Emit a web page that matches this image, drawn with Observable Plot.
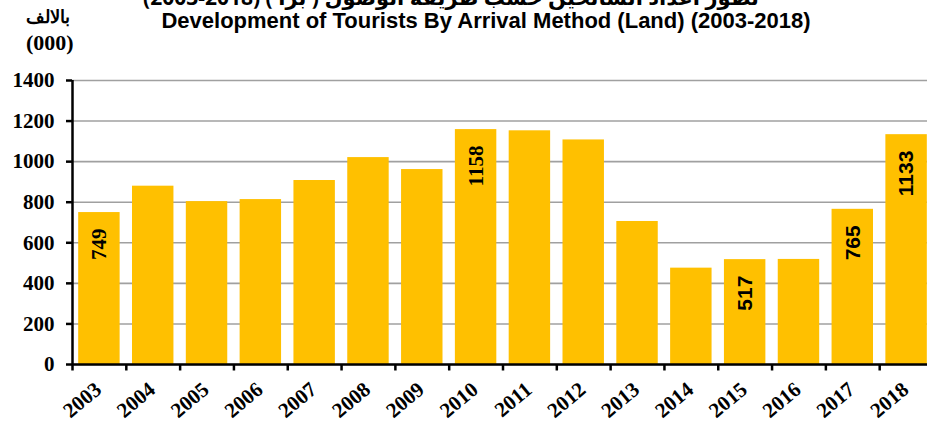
<!DOCTYPE html>
<html>
<head>
<meta charset="utf-8">
<script src="https://cdn.jsdelivr.net/npm/d3@7"></script>
<script src="https://cdn.jsdelivr.net/npm/@observablehq/plot@0.6"></script>
<style>
  html, body { margin: 0; padding: 0; background: white; }
  #wrap { position: relative; width: 927px; height: 424px; overflow: hidden; background: white; }
  .t { position: absolute; white-space: nowrap; color: #000; }
  #ar { top: -17px; left: 213px; width: 546px; text-align: center; font: bold 21px "Noto Sans", "DejaVu Sans", sans-serif; direction: rtl; }
  #en { top: 8px; left: 157px; width: 658px; text-align: center; font: bold 22px "Liberation Sans", Arial, sans-serif; }
  #u1 { top: 6px; left: 26px; font: bold 18px "Liberation Serif", "DejaVu Serif", serif; direction: rtl; }
  #u2 { top: 30px; left: 26px; font: bold 22px "Liberation Serif", "DejaVu Serif", serif; }
  #chart { position: absolute; top: 0; left: 0; }
</style>
</head>
<body>
<div id="wrap">
  <div id="chart"></div>
  <div class="t" id="ar">تطور أعداد السائحين حسب طريقة الوصول ( براً ) (2018-2003)</div>
  <div class="t" id="en">Development of Tourists By Arrival Method (Land) (2003-2018)</div>
  <div class="t" id="u1">بالالف</div>
  <div class="t" id="u2">(000)</div>
</div>
<script>
const years = ["2003","2004","2005","2006","2007","2008","2009","2010","2011","2012","2013","2014","2015","2016","2017","2018"];
const values = [749, 879, 803, 813, 907, 1020, 961, 1158, 1152, 1107, 705, 475, 517, 518, 765, 1133];
const serifLabelYears = ["2003", "2010"];
const sansLabelYears = ["2015", "2017", "2018"];
const yTicks = [0, 200, 400, 600, 800, 1000, 1200, 1400];

const data = years.map((year, i) => ({year, value: values[i]}));
const serifLabels = data.filter(d => serifLabelYears.includes(d.year));
const sansLabels = data.filter(d => sansLabelYears.includes(d.year));

const left = 72, right = 933;
const step = (right - left) / years.length;
const serif = "'Liberation Serif', 'DejaVu Serif', serif";
const sans = "'Liberation Sans', Arial, sans-serif";

const chart = Plot.plot({
  width: 927,
  height: 424,
  marginLeft: left,
  marginRight: 0,
  marginTop: 80,
  marginBottom: 60,
  style: {background: "white", overflow: "hidden"},
  x: {domain: years, range: [left, right], round: false, paddingInner: 0.23, paddingOuter: 0.115, label: null},
  y: {domain: [0, 1400], label: null},
  marks: [
    Plot.gridY(yTicks, {stroke: "#a0a0a0", strokeOpacity: 1, strokeWidth: 1.6}),
    Plot.barY(data, {x: "year", y: "value", fill: "#FFC000"}),
    Plot.ruleY([0], {stroke: "black", strokeWidth: 2.5}),
    Plot.ruleX([years[0]], {x: d => d, y1: 0, y2: 1400, dx: -step / 2, stroke: "black", strokeWidth: 2.5}),
    Plot.ruleX(years, {x: d => d, y1: 0, y2: -32, dx: -step / 2, stroke: "black", strokeWidth: 2.5}),
    Plot.axisY(yTicks, {tickSize: 6, tickPadding: 12, tickFormat: "d", stroke: "black", strokeWidth: 2.5, fontSize: 21, fontWeight: "bold", fontFamily: serif, fill: "black"}),
    Plot.axisX({tickSize: 0, tickRotate: -40, tickPadding: 22, dx: -1, fontSize: 21, fontWeight: "bold", fontFamily: serif, fill: "black"}),
    Plot.text(serifLabels, {x: "year", y: "value", text: d => String(d.value), rotate: -90, textAnchor: "end", lineAnchor: "middle", dy: 16, fontSize: 21, fontWeight: "bold", fontFamily: serif, fill: "black"}),
    Plot.text(sansLabels, {x: "year", y: "value", text: d => String(d.value), rotate: -90, textAnchor: "end", lineAnchor: "middle", dy: 16, fontSize: 21, fontWeight: "bold", fontFamily: sans, fill: "black"})
  ]
});
document.getElementById("chart").appendChild(chart);
</script>
</body>
</html>
